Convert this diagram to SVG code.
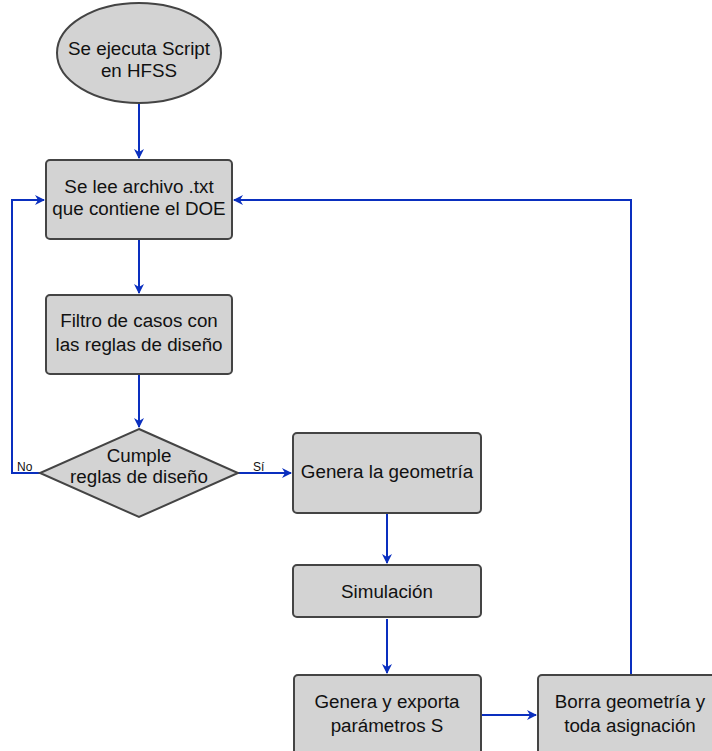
<svg xmlns="http://www.w3.org/2000/svg" width="712" height="751" viewBox="0 0 712 751">
<defs>
<marker id="ah" markerWidth="10" markerHeight="10" refX="9" refY="5" orient="auto" markerUnits="userSpaceOnUse"><path d="M0,0 L10,5 L0,10 L3,5 Z" fill="#0a2fbf"/></marker>
<style>
.n{fill:#d3d3d3;stroke:#444;stroke-width:2}
.t{font-family:"Liberation Sans",Arial,sans-serif;font-size:18.8px;fill:#111;text-anchor:middle}
.l{font-family:"Liberation Sans",Arial,sans-serif;font-size:12px;fill:#111}
.c{fill:none;stroke:#0a2fbf;stroke-width:2}
</style>
</defs>
<rect width="712" height="751" fill="#fff"/>
<g id="connectors">
<path class="c" d="M139,103 V158" marker-end="url(#ah)"/>
<path class="c" d="M139,239 V293" marker-end="url(#ah)"/>
<path class="c" d="M139,375 V427" marker-end="url(#ah)"/>
<path class="c" d="M40,473 H12 V200 H44" marker-end="url(#ah)"/>
<path class="c" d="M238,473 H291" marker-end="url(#ah)"/>
<path class="c" d="M387,513 V563" marker-end="url(#ah)"/>
<path class="c" d="M387,619 V673" marker-end="url(#ah)"/>
<path class="c" d="M482,715 H536" marker-end="url(#ah)"/>
<path class="c" d="M631,675 V200 H234" marker-end="url(#ah)"/>
<text class="l" x="17" y="471">No</text>
<text class="l" x="253" y="471">Sí</text>
</g>
<g id="start">
<ellipse class="n" cx="139" cy="53" rx="82" ry="50"/>
<text class="t" x="139" y="55">Se ejecuta Script</text>
<text class="t" x="139" y="77">en HFSS</text>
</g>
<g id="leer">
<rect class="n" x="46" y="160" width="186" height="79" rx="4"/>
<text class="t" x="139" y="193">Se lee archivo .txt</text>
<text class="t" x="139" y="215">que contiene el DOE</text>
</g>
<g id="filtro">
<rect class="n" x="46" y="295" width="186" height="79" rx="4"/>
<text class="t" x="139" y="327">Filtro de casos con</text>
<text class="t" x="139" y="351">las reglas de diseño</text>
</g>
<g id="decision">
<path class="n" d="M139,429 L238,473 L139,517 L40,473 Z"/>
<text class="t" x="139" y="462">Cumple</text>
<text class="t" x="139" y="483">reglas de diseño</text>
</g>
<g id="genera">
<rect class="n" x="293" y="433" width="188" height="80" rx="4"/>
<text class="t" x="387" y="478">Genera la geometría</text>
</g>
<g id="simulacion">
<rect class="n" x="293" y="565" width="188" height="52" rx="4"/>
<text class="t" x="387" y="598">Simulación</text>
</g>
<g id="exporta">
<rect class="n" x="294" y="675" width="187" height="80" rx="4"/>
<text class="t" x="387" y="708">Genera y exporta</text>
<text class="t" x="387" y="732">parámetros S</text>
</g>
<g id="borra">
<rect class="n" x="538" y="675" width="188" height="80" rx="4"/>
<text class="t" x="630" y="708">Borra geometría y</text>
<text class="t" x="630" y="732">toda asignación</text>
</g>
</svg>
